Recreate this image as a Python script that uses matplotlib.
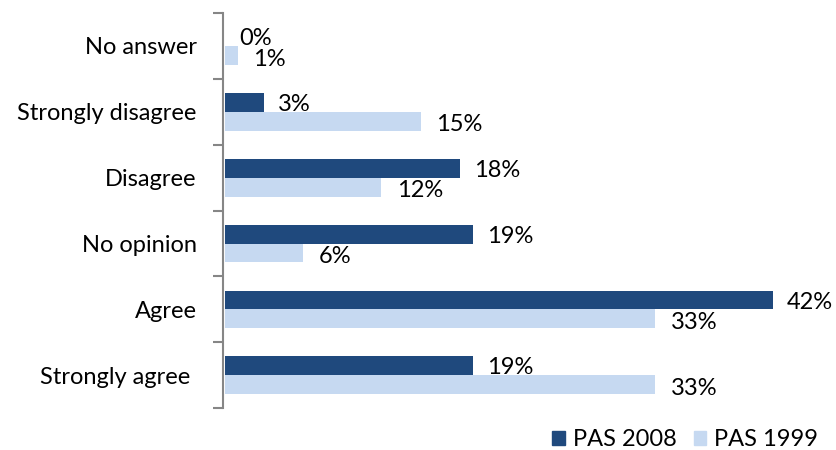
import numpy as np
import matplotlib.pyplot as plt
from matplotlib.patches import Patch

plt.rcParams['font.family'] = ['Lato', 'DejaVu Sans']

categories = ["Strongly agree ", "Agree", "No opinion", "Disagree", "Strongly disagree", "No answer"]
pas_2008 = [19, 42, 19, 18, 3, 0]
pas_1999 = [33, 33, 6, 12, 15, 1]

dark = "#1F497D"
light = "#C6D9F1"
fs = 17

fig = plt.figure(figsize=(8.36, 4.5), dpi=100)
ax = fig.add_axes([0.2667, 0.0933, 0.7045, 0.8778])

y = np.arange(len(categories))
h = 0.285
ax.barh(y + 0.14, pas_2008, height=h, color=dark, linewidth=0)
ax.barh(y - 0.145, pas_1999, height=h, color=light, linewidth=0)

for yi, v in zip(y, pas_2008):
    ax.annotate(f"{v}%", (v, yi + 0.11), xytext=(10, 0), textcoords="offset points",
                va="center", ha="left", fontsize=fs)
for yi, v in zip(y, pas_1999):
    ax.annotate(f"{v}%", (v, yi - 0.2), xytext=(11, 0), textcoords="offset points",
                va="center", ha="left", fontsize=fs)

ax.set_xlim(-0.15, 45)
ax.set_ylim(-0.5, 5.5)

for s in ["top", "right", "bottom"]:
    ax.spines[s].set_visible(False)
ax.spines["left"].set_color("#868686")
ax.spines["left"].set_linewidth(1.5)
ax.set_xticks([])

ax.set_yticks(y)
ax.set_yticklabels(categories, fontsize=fs)
ax.tick_params(axis="y", which="major", length=0, pad=19)
ax.set_yticks(np.arange(-0.5, 6, 1), minor=True)
ax.tick_params(axis="y", which="minor", length=7, width=1.5, color="#868686")

handles = [Patch(color=dark), Patch(color=light)]
fig.legend(handles, ["PAS 2008", "PAS 1999"], loc="lower right", bbox_to_anchor=(0.979, 0.0),
           ncol=2, frameon=False, fontsize=fs, handlelength=0.52, handleheight=0.52,
           handletextpad=0.34, columnspacing=0.75, borderpad=0, borderaxespad=0)

fig.savefig("out.png", dpi=100)
